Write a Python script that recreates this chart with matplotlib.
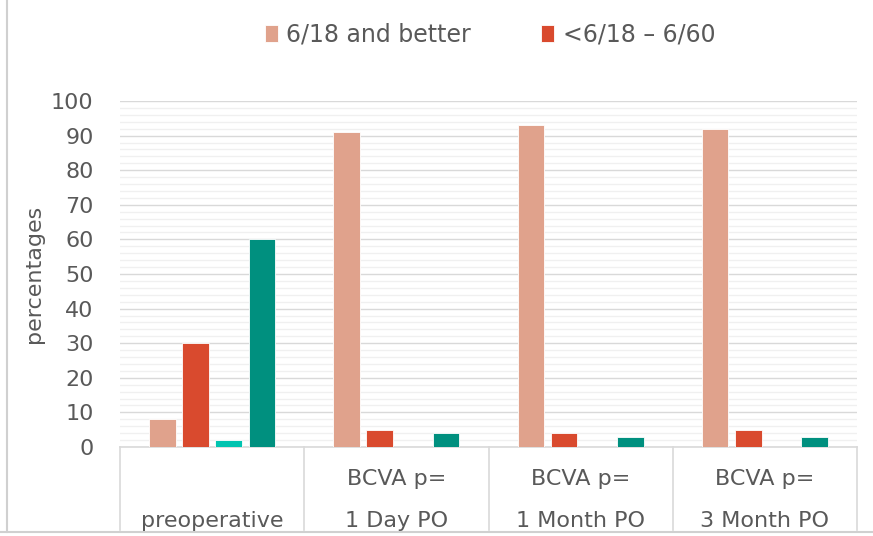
import numpy as np
import matplotlib.pyplot as plt
from matplotlib.lines import Line2D

# data
categories_top = ["", "BCVA p=", "BCVA p=", "BCVA p="]
categories_bottom = ["preoperative", "1 Day PO", "1 Month PO", "3 Month PO"]
series_names = ["6/18 and better", "<6/18 \u2013 6/60", "<6/60 \u2013 3/60", "<3/60"]
better = [8, 91, 93, 92]
mid = [30, 5, 4, 5]
low = [2, 0, 0, 0]
worst = [60, 4, 3, 3]
colors = ["#E0A28C", "#D94A2E", "#00C4B0", "#00907F"]
txt = "#595959"

fig = plt.figure(figsize=(8.73, 5.36), dpi=100)
W, H = 873, 536
ax = fig.add_axes([120 / W, 1 - 447 / H, (857 - 120) / W, (447 - 101) / H])

x = np.arange(len(categories_bottom))
bw = 0.145
step = 0.18
all_series = [better, mid, low, worst]
handles = []
for i, vals in enumerate(all_series):
    b = ax.bar(x + (i - 1.5) * step, vals, width=bw, color=colors[i],
               edgecolor="white", linewidth=0.6, zorder=3, label=series_names[i])
    handles.append(b)

ax.set_xlim(-0.5, 3.5)
ax.set_ylim(0, 100)
ax.set_yticks(range(0, 101, 10))
ax.set_yticks(range(0, 101, 2), minor=True)
ax.yaxis.grid(True, which="major", color="#D9D9D9", linewidth=1.0, zorder=0)
ax.yaxis.grid(True, which="minor", color="#F0F0F0", linewidth=1.0, zorder=0)
ax.tick_params(axis="y", which="both", length=0, pad=19, labelsize=16, labelcolor=txt)
ax.tick_params(axis="x", length=0, labelbottom=False)
for s in ax.spines.values():
    s.set_visible(False)
ax.set_ylabel("percentages", fontsize=16, color=txt, labelpad=5)

# category table below the axis
trans = ax.get_xaxis_transform()
ax.plot([-0.5, 3.5], [0, 0], color="#D9D9D9", lw=1.2, transform=trans, clip_on=False)
for b in np.arange(-0.5, 3.6, 1.0):
    ax.plot([b, b], [0, -0.24], color="#D9D9D9", lw=1.2, transform=trans, clip_on=False)
for i in range(len(categories_bottom)):
    ax.text(x[i], -0.092, categories_top[i], transform=trans, ha="center", va="center",
            fontsize=16, color=txt)
    ax.text(x[i], -0.214, categories_bottom[i], transform=trans, ha="center", va="center",
            fontsize=16, color=txt)

# legend (only two entries visible in the original)
fig.legend(handles[:2], series_names[:2], loc="center", ncol=2,
           bbox_to_anchor=(490 / W, 1 - 35 / H), frameon=False, fontsize=17,
           labelcolor=txt, handlelength=0.55, handleheight=0.75, handletextpad=0.35,
           columnspacing=3.0)

# outer chart border pieces
fig.add_artist(Line2D([7 / W, 7 / W], [1 - 532 / H, 1], color="#D0D0D0", lw=1.5))
fig.add_artist(Line2D([0, 1], [1 - 532 / H, 1 - 532 / H], color="#D0D0D0", lw=1.5))

fig.savefig("out.png", dpi=100)
